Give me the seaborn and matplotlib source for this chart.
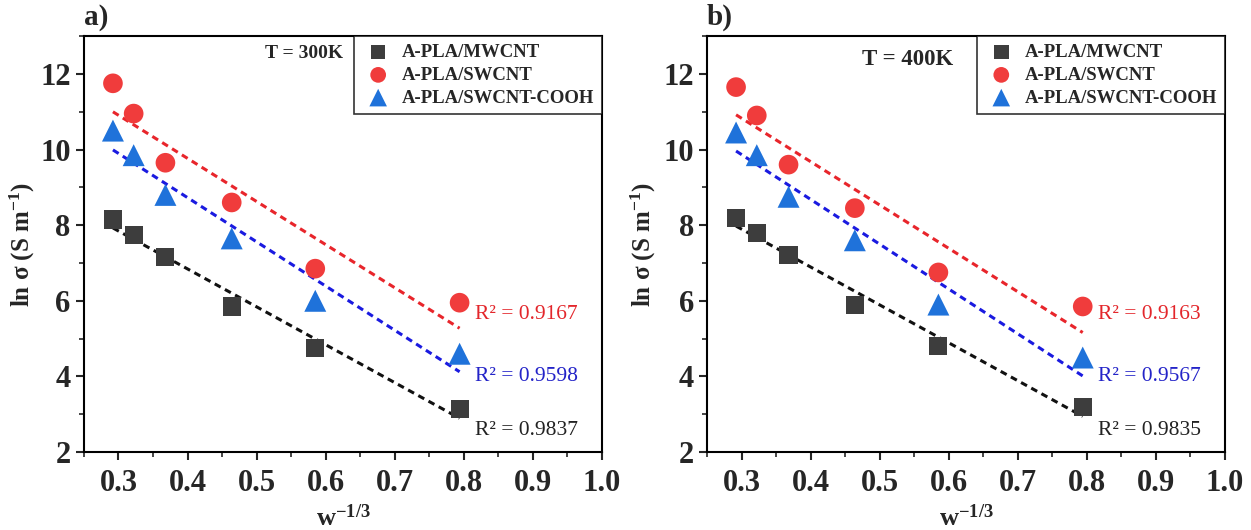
import numpy as np
import pandas as pd
import matplotlib.pyplot as plt
import seaborn as sns

# data
w_inv = [0.292, 0.322, 0.368, 0.464, 0.585, 0.794]
series = ['A-PLA/MWCNT', 'A-PLA/SWCNT', 'A-PLA/SWCNT-COOH']

mw_300 = [8.15, 7.75, 7.15, 5.85, 4.75, 3.15]
sw_300 = [11.75, 10.95, 9.65, 8.6, 6.85, 5.95]
cooh_300 = [10.5, 9.85, 8.8, 7.65, 6.0, 4.6]

mw_400 = [8.2, 7.8, 7.2, 5.9, 4.8, 3.2]
sw_400 = [11.65, 10.9, 9.6, 8.45, 6.75, 5.85]
cooh_400 = [10.45, 9.85, 8.75, 7.6, 5.9, 4.5]

r2_300 = ['0.9837', '0.9167', '0.9598']
r2_400 = ['0.9835', '0.9163', '0.9567']

sns.set_style('ticks')
plt.rcParams['font.family'] = ['Liberation Serif', 'DejaVu Serif']
plt.rcParams['mathtext.fontset'] = 'custom'
plt.rcParams['mathtext.rm'] = 'Liberation Serif'
plt.rcParams['mathtext.it'] = 'Liberation Serif:italic'
plt.rcParams['mathtext.bf'] = 'Liberation Serif:bold'

markers = {'A-PLA/MWCNT': 's', 'A-PLA/SWCNT': 'o', 'A-PLA/SWCNT-COOH': '^'}
sizes = {'A-PLA/MWCNT': 170, 'A-PLA/SWCNT': 200, 'A-PLA/SWCNT-COOH': 250}
pt_colors = {'A-PLA/MWCNT': '#3d3d3d', 'A-PLA/SWCNT': '#f03c3c', 'A-PLA/SWCNT-COOH': '#1f72da'}
fit_colors = {'A-PLA/MWCNT': '#111111', 'A-PLA/SWCNT': '#e8252b', 'A-PLA/SWCNT-COOH': '#1a1ae0'}
txt_colors = {'A-PLA/MWCNT': '#222222', 'A-PLA/SWCNT': '#e3262b', 'A-PLA/SWCNT-COOH': '#2323c8'}
r2_y = {'A-PLA/MWCNT': 2.58, 'A-PLA/SWCNT': 5.63, 'A-PLA/SWCNT-COOH': 3.99}

panels = [
    ('a)', 'T = 300K', [mw_300, sw_300, cooh_300], r2_300, 0.0671, (0.512, 12.55), 14, 2),
    ('b)', 'T = 400K', [mw_400, sw_400, cooh_400], r2_400, 0.5652, (0.475, 12.38), 16.5, 4),
]

fig = plt.figure(figsize=(12.51, 5.3), dpi=100)

for label, temp, vals, r2, left, tpos, tsize, ypad in panels:
    ax = fig.add_axes([left, 0.147, 0.414, 0.785])
    df = pd.DataFrame({
        'x': w_inv * 3,
        'y': vals[0] + vals[1] + vals[2],
        'sample': [s for s in series for _ in w_inv],
    })
    for s in series:
        sub = df[df['sample'] == s]
        sns.regplot(data=sub, x='x', y='y', ax=ax, ci=None, scatter=False, truncate=True,
                    line_kws=dict(color=fit_colors[s], ls=(0, (2.2, 1.6)), lw=2.2))
    for s in series:
        sub = df[df['sample'] == s]
        ax.scatter(sub['x'], sub['y'], marker=markers[s], s=sizes[s], color=pt_colors[s],
                   edgecolor='none', label=s, zorder=3)
        ax.text(0.816, r2_y[s], 'R² = ' + r2[series.index(s)], color=txt_colors[s],
                fontsize=15.5, ha='left', va='center')

    ax.set_xlim(0.25, 1.0)
    ax.set_ylim(2, 13)
    ax.set_xticks(np.arange(0.3, 1.01, 0.1))
    ax.set_xticklabels(['0.3', '0.4', '0.5', '0.6', '0.7', '0.8', '0.9', '1.0'])
    ax.set_yticks([2, 4, 6, 8, 10, 12])
    ax.set_xticks(np.arange(0.25, 1.0, 0.05), minor=True)
    ax.set_yticks(np.arange(2, 13.1, 1), minor=True)
    ax.tick_params(axis='both', which='major', direction='out', length=6, width=1.5,
                   labelsize=22)
    ax.tick_params(axis='x', which='major', pad=6)
    ax.tick_params(axis='both', which='minor', direction='out', length=3.5, width=1.2)
    for t in ax.get_xticklabels() + ax.get_yticklabels():
        t.set_fontweight('bold')
    for sp in ax.spines.values():
        sp.set_linewidth(1.5)
        sp.set_color('black')

    ax.set_xlabel(r'$\mathbf{w^{-1/3}}$', fontsize=19, labelpad=5)
    ax.set_ylabel(r'ln σ (S m$^{\mathbf{-1}}$)', fontsize=18, fontweight='bold', labelpad=ypad)

    leg = ax.legend(loc='upper right', borderaxespad=0, frameon=True, fancybox=False,
                    prop=dict(weight='bold', size=13.5), handletextpad=0.4, handlelength=1.7,
                    labelspacing=0.3, borderpad=0.42, markerscale=0.8)
    leg.get_frame().set_edgecolor('black')
    leg.get_frame().set_linewidth(1.2)

    ax.text(tpos[0], tpos[1], temp, fontsize=tsize, fontweight='bold', ha='left', va='center',
            zorder=10)
    ax.text(0.0, 1.012, label, transform=ax.transAxes, fontsize=21, fontweight='bold',
            ha='left', va='bottom')

fig.savefig('out.png', dpi=100)
